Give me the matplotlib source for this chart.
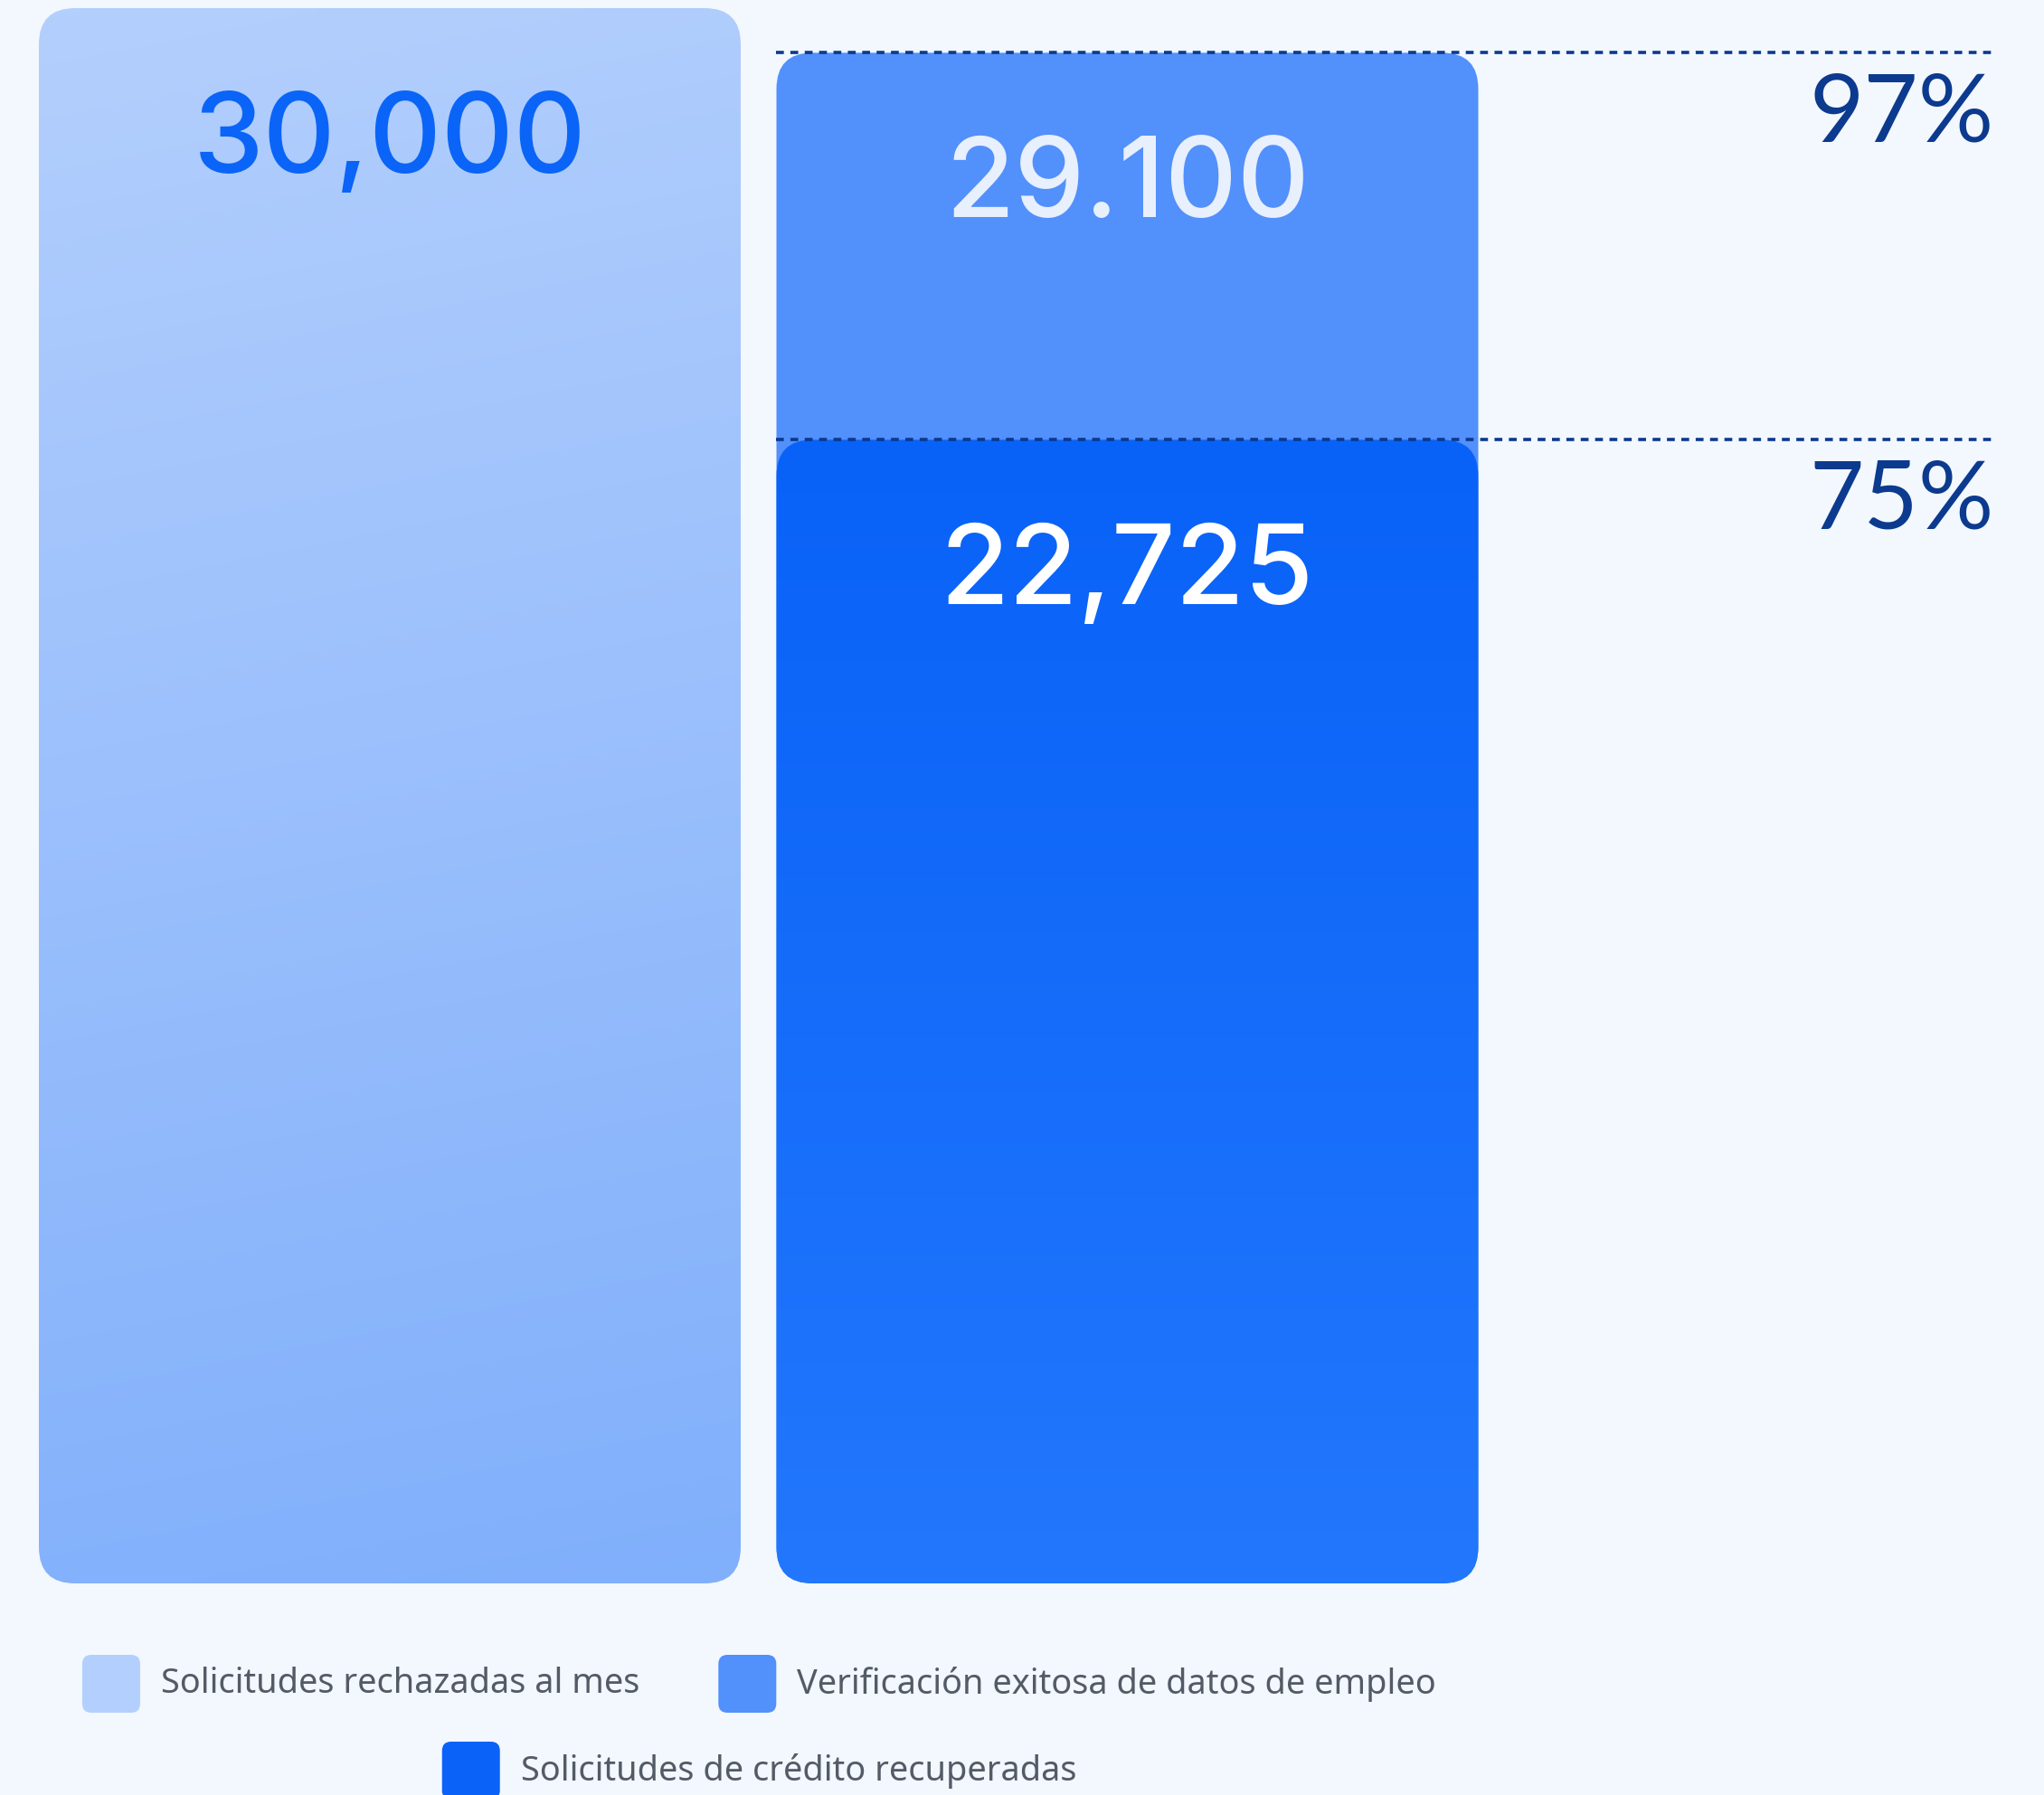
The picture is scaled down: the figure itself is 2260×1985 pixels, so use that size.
import matplotlib
matplotlib.use("Agg")
import matplotlib.pyplot as plt
import numpy as np
from matplotlib.patches import FancyBboxPatch
from matplotlib.colors import LinearSegmentedColormap

# data
BAR_X = [0, 1, 1]
BAR_HEIGHTS = [30000, 29150, 21780]          # drawn heights (97% and 75% steps)
BAR_LABELS = ["30,000", "29.100", "22,725"]  # printed as in the source
PCT_LEVELS = [29150, 21780]
PCT_LABELS = ["97%", "75%"]
LEGEND_LABELS = [
    "Solicitudes rechazadas al mes",
    "Verificación exitosa de datos de empleo",
    "Solicitudes de crédito recuperadas",
]
LEGEND_COLORS = ["#b3cffd", "#5290fb", "#0a62f8"]

BG = "#f3f7fe"
NAVY = "#0b3a8e"

W, H = 2260, 1985
fig = plt.figure(figsize=(W / 100, H / 100), dpi=100, facecolor=BG)

# bar axes: y 0 at pixel 1751, 30000 at pixel 9
px_per_x = 815.5
y_bot, y_top = 1751, 9
ax = fig.add_axes([0, (H - y_bot) / H, 1, (y_bot - y_top) / H])
ax.set_facecolor("none")
ax.axis("off")
xmin = -431 / px_per_x
xmax = xmin + W / px_per_x
ymax = 30000
width = 776 / px_per_x
rad = 40 / px_per_x
aspect = (ymax / (y_bot - y_top)) * px_per_x


def rounded_bar(x, h, colors, diag=0.0, z=1):
    x0 = x - width / 2
    patch = FancyBboxPatch((x0, 0), width, h,
                           boxstyle=f"round,pad=0,rounding_size={rad}",
                           mutation_aspect=aspect, transform=ax.transData,
                           facecolor="none", edgecolor="none", zorder=z)
    ax.add_patch(patch)
    if len(colors) == 1:
        patch.set_facecolor(colors[0])
        return patch
    yy, xx = np.mgrid[0:1:200j, 0:1:50j]
    t = (1 - yy) * (1 - diag) + xx * diag  # 0 at top-left
    cmap = LinearSegmentedColormap.from_list("g", colors)
    im = ax.imshow(t, extent=[x0, x0 + width, 0, h], origin="lower",
                   cmap=cmap, vmin=0, vmax=1, aspect="auto", zorder=z,
                   interpolation="bilinear")
    im.set_clip_path(patch)
    return patch


rounded_bar(BAR_X[0], BAR_HEIGHTS[0], ["#b3cffd", "#80affb"], diag=0.08, z=1)
rounded_bar(BAR_X[1], BAR_HEIGHTS[1], ["#5290fb"], z=1)
rounded_bar(BAR_X[2], BAR_HEIGHTS[2], ["#0962f8", "#2277fc"], z=2)

label_colors = ["#0a64f7", "#e8effd", "#ffffff"]
for x, h, lab, c in zip(BAR_X, BAR_HEIGHTS, BAR_LABELS, label_colors):
    ax.annotate(lab, xy=(x, h), xytext=(0, -131), textcoords="offset points",
                ha="center", va="baseline", fontsize=89, fontweight="medium",
                family="Inter", color=c, zorder=5)

line_x0 = 1 - width / 2
line_x1 = (2208 / px_per_x) + xmin
for lvl, lab in zip(PCT_LEVELS, PCT_LABELS):
    ax.plot([line_x0, line_x1], [lvl, lvl], color=NAVY, lw=2.6,
            linestyle=(0, (2.4, 2.0)), zorder=6, solid_capstyle="butt")
    ax.annotate(lab, xy=(line_x1, lvl), xytext=(-2, -71),
                textcoords="offset points", ha="right", va="baseline",
                fontsize=75, family="Lato", color=NAVY, zorder=5)

ax.set_xlim(xmin, xmax)
ax.set_ylim(0, ymax)
ax.set_aspect("auto")

# legend in pixel coordinates
lax = fig.add_axes([0, 0, 1, 1])
lax.set_facecolor("none")
lax.axis("off")
lax.set_xlim(0, W)
lax.set_ylim(H, 0)

renderer = fig.canvas.get_renderer()
sq = 64
txt_gap = 23
item_gap = 87
center_x = 839.5
rows = [([0, 1], 1862), ([2], 1958)]
for idxs, cy in rows:
    texts = []
    widths = []
    for i in idxs:
        t = lax.text(0, cy, LEGEND_LABELS[i], fontsize=27.3, family="Noto Sans",
                     color="#535b66", ha="left", va="center")
        bb = t.get_window_extent(renderer)
        texts.append(t)
        widths.append(sq + txt_gap + bb.width)
    total = sum(widths) + item_gap * (len(idxs) - 1)
    x = center_x - total / 2
    for i, t, w in zip(idxs, texts, widths):
        lax.add_patch(FancyBboxPatch((x, cy - sq / 2), sq, sq,
                                     boxstyle="round,pad=0,rounding_size=10",
                                     facecolor=LEGEND_COLORS[i], edgecolor="none"))
        t.set_x(x + sq + txt_gap)
        x += w + item_gap

fig.savefig("out.png", dpi=100, facecolor=BG)
